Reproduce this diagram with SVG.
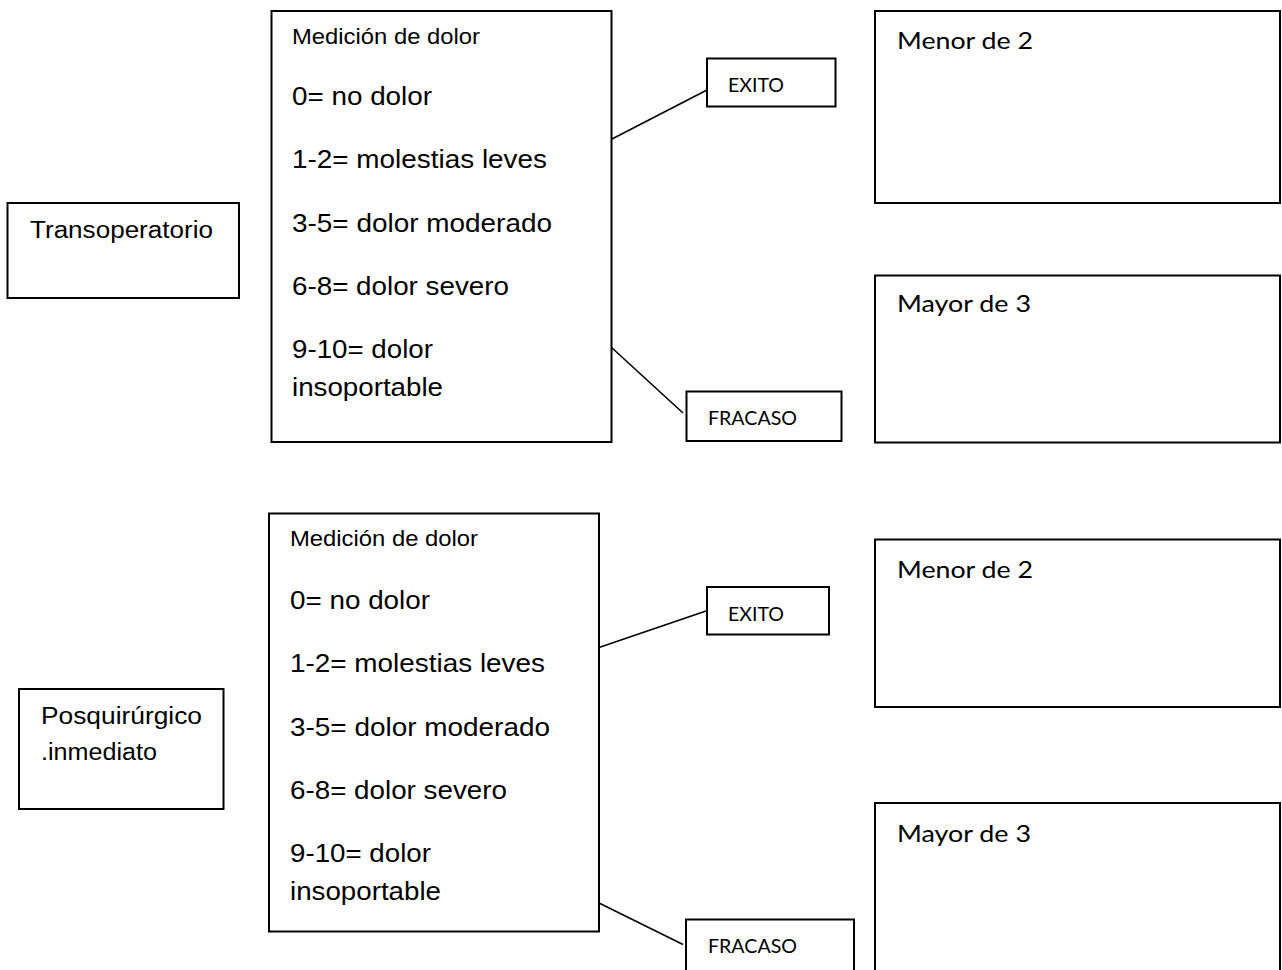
<svg xmlns="http://www.w3.org/2000/svg" width="1282" height="970" viewBox="0 0 1282 970">
<style>
.box{fill:#fff;stroke:#000;stroke-width:2}
.ln{stroke:#000;stroke-width:1.6;fill:none}
.a{font-family:"Liberation Sans",Arial,sans-serif;fill:#000}
.it{font-size:25px}
.hd{font-size:22px}
.lb{font-size:23px}
.c{font-family:Lato,"Open Sans",sans-serif;fill:#000}
.big{font-size:23px}
.sm{font-size:18.5px}
</style>
<rect width="1282" height="970" fill="#fff"/>
<g id="connectors">
<line class="ln" x1="611" y1="139.5" x2="707" y2="90"/>
<line class="ln" x1="611" y1="347" x2="683" y2="413"/>
<line class="ln" x1="599" y1="647.5" x2="706" y2="611"/>
<line class="ln" x1="599" y1="903" x2="683" y2="944.5"/>
</g>
<g id="transoperatorio">
<rect class="box" x="7.5" y="203" width="231.5" height="95"/>
<text class="a lb" x="30" y="238" textLength="183" lengthAdjust="spacingAndGlyphs">Transoperatorio</text>
</g>
<g id="medicion1">
<rect class="box" x="271.5" y="11" width="340" height="431"/>
<text class="a hd" x="292" y="44" textLength="188" lengthAdjust="spacingAndGlyphs">Medición de dolor</text>
<text class="a it" x="292" y="105" textLength="140" lengthAdjust="spacingAndGlyphs">0= no dolor</text>
<text class="a it" x="292" y="168" textLength="255" lengthAdjust="spacingAndGlyphs">1-2= molestias leves</text>
<text class="a it" x="292" y="232" textLength="260" lengthAdjust="spacingAndGlyphs">3-5= dolor moderado</text>
<text class="a it" x="292" y="295" textLength="217" lengthAdjust="spacingAndGlyphs">6-8= dolor severo</text>
<text class="a it" x="292" y="358" textLength="141" lengthAdjust="spacingAndGlyphs">9-10= dolor</text>
<text class="a it" x="292" y="396" textLength="151" lengthAdjust="spacingAndGlyphs">insoportable</text>
</g>
<g id="exito1">
<rect class="box" x="707" y="58.5" width="128.5" height="48"/>
<text class="c sm" x="728" y="92" textLength="56" lengthAdjust="spacingAndGlyphs">EXITO</text>
</g>
<g id="fracaso1">
<rect class="box" x="686.5" y="391.5" width="155" height="49.5"/>
<text class="c sm" x="708" y="424.5" textLength="89" lengthAdjust="spacingAndGlyphs">FRACASO</text>
</g>
<g id="menor1">
<rect class="box" x="875" y="11" width="405" height="192"/>
<text class="c big" x="897" y="49" textLength="136" lengthAdjust="spacingAndGlyphs">Menor de 2</text>
</g>
<g id="mayor1">
<rect class="box" x="875" y="275.5" width="405" height="167"/>
<text class="c big" x="897" y="312" textLength="134" lengthAdjust="spacingAndGlyphs">Mayor de 3</text>
</g>
<g id="posquirurgico">
<rect class="box" x="19" y="689" width="204.5" height="120"/>
<text class="a lb" x="41" y="724" textLength="161" lengthAdjust="spacingAndGlyphs">Posquirúrgico</text>
<text class="a lb" x="41" y="760" textLength="116" lengthAdjust="spacingAndGlyphs">.inmediato</text>
</g>
<g id="medicion2">
<rect class="box" x="269" y="513.5" width="330" height="418"/>
<text class="a hd" x="290" y="546" textLength="188" lengthAdjust="spacingAndGlyphs">Medición de dolor</text>
<text class="a it" x="290" y="609" textLength="140" lengthAdjust="spacingAndGlyphs">0= no dolor</text>
<text class="a it" x="290" y="672" textLength="255" lengthAdjust="spacingAndGlyphs">1-2= molestias leves</text>
<text class="a it" x="290" y="736" textLength="260" lengthAdjust="spacingAndGlyphs">3-5= dolor moderado</text>
<text class="a it" x="290" y="799" textLength="217" lengthAdjust="spacingAndGlyphs">6-8= dolor severo</text>
<text class="a it" x="290" y="862" textLength="141" lengthAdjust="spacingAndGlyphs">9-10= dolor</text>
<text class="a it" x="290" y="900" textLength="151" lengthAdjust="spacingAndGlyphs">insoportable</text>
</g>
<g id="exito2">
<rect class="box" x="707" y="587" width="122" height="47.5"/>
<text class="c sm" x="728" y="621" textLength="56" lengthAdjust="spacingAndGlyphs">EXITO</text>
</g>
<g id="fracaso2">
<rect class="box" x="686" y="919.5" width="168" height="60"/>
<text class="c sm" x="708" y="953" textLength="89" lengthAdjust="spacingAndGlyphs">FRACASO</text>
</g>
<g id="menor2">
<rect class="box" x="875" y="539.5" width="405" height="167.5"/>
<text class="c big" x="897" y="578" textLength="136" lengthAdjust="spacingAndGlyphs">Menor de 2</text>
</g>
<g id="mayor2">
<rect class="box" x="875" y="803" width="405" height="177"/>
<text class="c big" x="897" y="842" textLength="134" lengthAdjust="spacingAndGlyphs">Mayor de 3</text>
</g>
</svg>
